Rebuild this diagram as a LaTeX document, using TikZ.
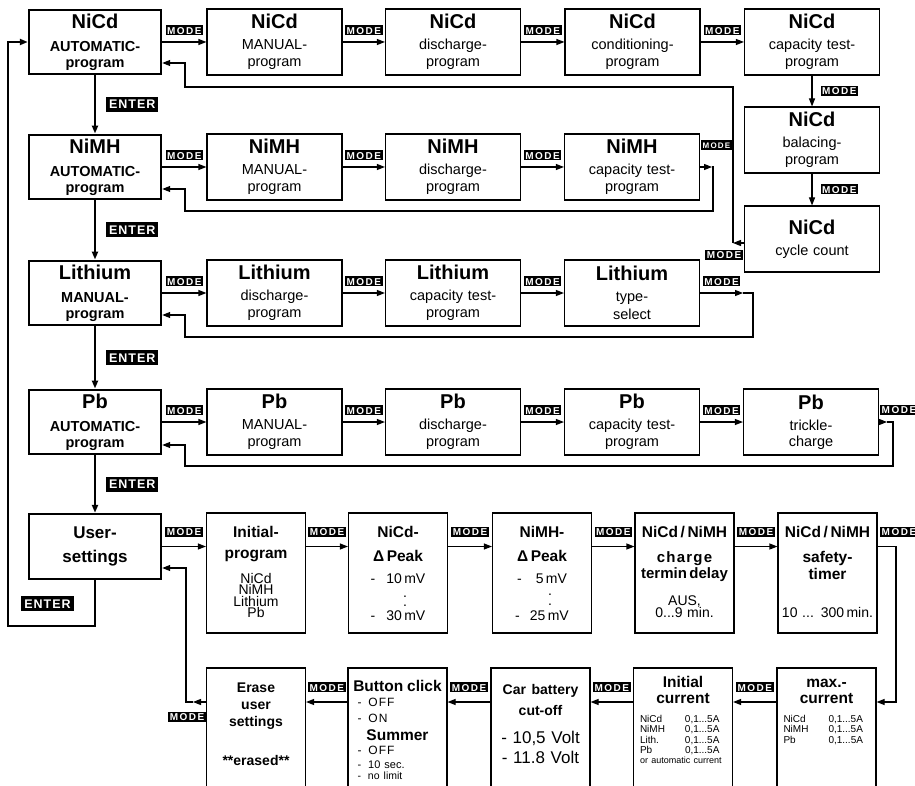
\documentclass[tikz,border=0pt]{standalone}
\usepackage{fontspec}
\setmainfont{Liberation Sans}
\newfontfamily\keyfont[LetterSpace=15]{Liberation Sans}
\newfontfamily\spc[LetterSpace=8]{Liberation Sans}
\usetikzlibrary{arrows.meta}

\newcommand{\ttl}{\fontsize{20}{0}\selectfont\bfseries}
\newcommand{\hb}{\fontsize{15.5}{0}\selectfont\bfseries}
\newcommand{\cur}[1]{\makebox[45pt][l]{#1}0,1...5A}

\tikzset{
  prog/.style={draw, line width=1.1pt, minimum width=135pt, minimum height=66pt,
    inner sep=0pt, text width=130pt, align=center, font=\fontsize{14.5}{0}\selectfont,
    execute at begin node={\lineskiplimit=-50pt}},
  first/.style={prog, line width=2.4pt, minimum width=132pt, minimum height=64.5pt,
    font=\fontsize{14.5}{0}\selectfont\bfseries},
  optbox/.style={draw, line width=1.1pt, minimum width=99pt, minimum height=120pt},
  lowbox/.style={optbox, minimum height=132pt},
  txt/.style={anchor=base, inner sep=0pt, text width=96pt, align=center,
    font=\fontsize{14}{0}\selectfont, execute at begin node={\lineskiplimit=-50pt}},
  mode/.style={fill=black, text=white, inner xsep=1.5pt, inner ysep=1.4pt,
    text height=7.2pt, text depth=0pt, font=\keyfont\fontsize{10}{10}\selectfont\bfseries},
  enter/.style={fill=black, text=white, inner xsep=3pt, inner ysep=3pt,
    text height=9pt, text depth=0pt, font=\spc\fontsize{12.5}{12.5}\selectfont\bfseries},
  modeline/.style={line width=1.1pt},
  enterline/.style={line width=2.2pt},
}

\begin{document}
\begin{tikzpicture}[x=1pt, y=-1pt, >={Triangle[length=8pt,width=6pt]}]
\useasboundingbox (0,0) rectangle (915,786);
\clip (0,0) rectangle (915,786);

% NiCd
\node[first] (nA) at (95,42) {{\ttl NiCd}\\[23pt]AUTOMATIC-\\[16pt]program};
\node[prog] (nM) at (274.5,42) {{\ttl NiCd}\\[21pt]MANUAL-\\[17pt]program};
\node[prog] (nD) at (453,42) {{\ttl NiCd}\\[21pt]discharge-\\[17pt]program};
\node[prog] (nC) at (632.5,42) {{\ttl NiCd}\\[21pt]conditioning-\\[17pt]program};
\node[prog] (nT) at (812,42) {{\ttl NiCd}\\[21pt]capacity test-\\[17pt]program};
\node[prog] (nB) at (812,140) {{\ttl NiCd}\\[21pt]balacing-\\[17pt]program};
\node[prog] (nY) at (812,239) {{\ttl NiCd}\\[21pt]cycle count};

% NiMH
\node[first] (hA) at (95,167) {{\ttl NiMH}\\[23pt]AUTOMATIC-\\[16pt]program};
\node[prog] (hM) at (274.5,167) {{\ttl NiMH}\\[21pt]MANUAL-\\[17pt]program};
\node[prog] (hD) at (453,167) {{\ttl NiMH}\\[21pt]discharge-\\[17pt]program};
\node[prog] (hT) at (632,167) {{\ttl NiMH}\\[21pt]capacity test-\\[17pt]program};

% Lithium
\node[first] (lA) at (95,293) {{\ttl Lithium}\\[23pt]MANUAL-\\[16pt]program};
\node[prog] (lD) at (274.5,293) {{\ttl Lithium}\\[21pt]discharge-\\[17pt]program};
\node[prog] (lT) at (453,293) {{\ttl Lithium}\\[21pt]capacity test-\\[17pt]program};
\node[prog] (lS) at (632,293) {{\ttl Lithium}\\[21pt]type-\\[18pt]select};

% Pb
\node[first] (pA) at (95,422) {{\ttl Pb}\\[23pt]AUTOMATIC-\\[16pt]program};
\node[prog] (pM) at (274.5,422) {{\ttl Pb}\\[21pt]MANUAL-\\[17pt]program};
\node[prog] (pD) at (453,422) {{\ttl Pb}\\[21pt]discharge-\\[17pt]program};
\node[prog] (pT) at (632,422) {{\ttl Pb}\\[21pt]capacity test-\\[17pt]program};
\node[prog] (pC) at (811,422) {{\ttl Pb}\\[21pt]trickle-\\[16pt]charge};

% user settings
\node[first, minimum height=65pt, font=\fontsize{17}{0}\selectfont\bfseries] (us) at (95,546.5) {User-\\[24pt]settings};
\node[optbox] (ip) at (256,573) {};
\node[optbox] (cd) at (398,573) {};
\node[optbox] (hd) at (542,573) {};
\node[optbox] (td) at (684.5,573) {};
\node[optbox] (st) at (827.5,573) {};
\node[lowbox] (er) at (256,734) {};
\node[lowbox] (bc) at (397.5,734) {};
\node[lowbox] (cb) at (540.5,734) {};
\node[lowbox] (ic) at (683,734) {};
\node[lowbox] (mc) at (826.5,734) {};

\node[txt] (ipT) at (256,537) {{\hb Initial-}\\[21pt]{\hb program}\\[25pt]NiCd\\[11.5pt]NiMH\\[11.5pt]Lithium\\[11.5pt]Pb};
\node[txt] (cdT) at (398,537) {{\hb NiCd-}\\[24pt]{\hb Δ\,Peak}\\[22pt]-\hspace{11pt}10\,mV\\[14pt]\hspace*{14pt}.\\[9pt]\hspace*{14pt}.\\[14pt]-\hspace{11pt}30\,mV};
\node[txt] (hdT) at (542,537) {{\hb NiMH-}\\[24pt]{\hb Δ\,Peak}\\[22pt]-\hspace{14pt}5\,mV\\[12pt]\hspace*{16pt}.\\[10pt]\hspace*{16pt}.\\[15pt]-\hspace{10pt}25\,mV};
\node[txt] (tdT) at (684.5,537) {{\hb NiCd\,/\,NiMH}\\[25pt]{\fontsize{15}{0}\selectfont\bfseries\spc charge}\\[16pt]{\fontsize{15}{0}\selectfont\bfseries termin\,delay}\\[27pt]AUS,\\[12pt]0...9 min.};
\node[txt] (stT) at (827.5,537) {{\hb NiCd\,/\,NiMH}\\[25pt]{\hb safety-}\\[17pt]{\hb timer}\\[38pt]10 ... 300\,min.};

\node[txt, font=\fontsize{14}{0}\selectfont\bfseries] (erT) at (256,692) {Erase\\[17pt]user\\[17pt]settings\\[39pt]**erased**};
\node[txt, align=left, text width=90pt, font=\fontsize{12}{0}\selectfont] (bcT) at (397.5,691) {\makebox[90pt]{\hb Button click}\\[15pt]\hspace*{5pt}-\hspace{7pt}{\spc OFF}\\[16pt]\hspace*{5pt}-\hspace{7pt}{\spc ON}\\[18pt]\makebox[90pt]{\hb Summer}\\[14pt]\hspace*{5pt}-\hspace{7pt}{\spc OFF}\\[14pt]{\fontsize{11}{0}\selectfont\hspace*{5pt}-\hspace{7pt}10 sec.}\\[11pt]{\fontsize{10.5}{0}\selectfont\hspace*{5pt}-\hspace{7pt}no limit}};
\node[txt, font=\fontsize{17}{0}\selectfont] (cbT) at (540.5,694) {{\fontsize{14}{0}\selectfont\bfseries Car battery}\\[21pt]{\fontsize{14}{0}\selectfont\bfseries cut-off}\\[28pt]- 10,5 Volt\\[20pt]- 11.8 Volt};
\node[txt, align=left, text width=86pt, font=\fontsize{10}{0}\selectfont] (icT) at (683,687) {\makebox[86pt]{\hb Initial}\\[16pt]\makebox[86pt]{\hb current}\\[19pt]\cur{NiCd}\\[10.5pt]\cur{NiMH}\\[10.5pt]\cur{Lith.}\\[10.5pt]\cur{Pb}\\[9.5pt]{\fontsize{9}{0}\selectfont or automatic current}};
\node[txt, align=left, text width=86pt, font=\fontsize{10}{0}\selectfont] (mcT) at (826.5,687) {\makebox[86pt]{\hb max.-}\\[16pt]\makebox[86pt]{\hb current}\\[19pt]\cur{NiCd}\\[10.5pt]\cur{NiMH}\\[10.5pt]\cur{Pb}};

% MODE steps
\draw[modeline,->] (nA) -- node[mode, above=6pt] (m1) {MODE} (nM);
\draw[modeline,->] (nM) -- node[mode, above=6pt] (m2) {MODE} (nD);
\draw[modeline,->] (nD) -- node[mode, above=6pt] (m3) {MODE} (nC);
\draw[modeline,->] (nC) -- node[mode, above=6pt] (m4) {MODE} (nT);
\draw[modeline,->] (nT) -- node[mode, right=8pt] (m5) {MODE} (nB);
\draw[modeline,->] (nB) -- node[mode, right=8pt] (m6) {MODE} (nY);
\coordinate (c1) at (733,243);
\coordinate (c2) at (185,87);
\draw[modeline,->] ([yshift=-4pt]nY.west) -- (c1);
\draw[modeline,->] (c1) |- (c2) |- ([yshift=-21pt]nA.east);
\node[mode, anchor=north east] (m7) at (743,250) {MODE};

\draw[modeline,->] (hA) -- node[mode, above=6pt] (m8) {MODE} (hM);
\draw[modeline,->] (hM) -- node[mode, above=6pt] (m9) {MODE} (hD);
\draw[modeline,->] (hD) -- node[mode, above=6pt] (m10) {MODE} (hT);
\coordinate (c3) at (713,167);
\coordinate (c4) at (185,211);
\draw[modeline,->] (hT) -- ([xshift=-1pt]c3);
\draw[modeline,->] ([xshift=-1pt]c3) -- (c3) |- (c4) |- ([yshift=-22pt]hA.east);
\node[mode, anchor=south west, text height=6.5pt, font=\keyfont\fontsize{8}{8}\selectfont\bfseries] (m11) at (701,150) {MODE};

\draw[modeline,->] (lA) -- node[mode, above=6pt] (m12) {MODE} (lD);
\draw[modeline,->] (lD) -- node[mode, above=6pt] (m13) {MODE} (lT);
\draw[modeline,->] (lT) -- node[mode, above=6pt] (m14) {MODE} (lS);
\coordinate (c5) at (753,293);
\coordinate (c6) at (185,337);
\draw[modeline,->] (lS) -- node[mode, above=6pt] (m15) {MODE} ([xshift=-10pt]c5);
\draw[modeline,->] ([xshift=-10pt]c5) -- (c5) |- (c6) |- ([yshift=-22pt]lA.east);

\draw[modeline,->] (pA) -- node[mode, above=6pt] (m16) {MODE} (pM);
\draw[modeline,->] (pM) -- node[mode, above=6pt] (m17) {MODE} (pD);
\draw[modeline,->] (pD) -- node[mode, above=6pt] (m18) {MODE} (pT);
\draw[modeline,->] (pT) -- node[mode, above=6pt] (m19) {MODE} (pC);
\coordinate (c7) at (893,422);
\coordinate (c8) at (185,466);
\draw[modeline,->] (pC) -- ([xshift=-6pt]c7);
\draw[modeline,->] ([xshift=-6pt]c7) -- (c7) |- (c8) |- ([yshift=-23pt]pA.east);
\node[mode, anchor=south west] (m20) at (880,415) {MODE};

\draw[modeline,->] (us) -- node[mode, above=9pt] (m21) {MODE} (us -| ip.west);
\draw[modeline,->] (us -| ip.east) -- node[mode, above=9pt] (m22) {MODE} (us -| cd.west);
\draw[modeline,->] (us -| cd.east) -- node[mode, above=9pt] (m23) {MODE} (us -| hd.west);
\draw[modeline,->] (us -| hd.east) -- node[mode, above=9pt] (m24) {MODE} (us -| td.west);
\draw[modeline,->] (us -| td.east) -- node[mode, above=9pt] (m25) {MODE} (us -| st.west);
\coordinate (c9) at (896,546.5);
\coordinate (r6) at (896,702);
\draw[modeline,->] (us -| st.east) -- (c9) |- (mc.east |- r6);
\node[mode, anchor=south west] (m26) at (880,537) {MODE};

\draw[modeline,->] (mc.west |- r6) -- node[mode, above=9pt] (m27) {MODE} (ic.east |- r6);
\draw[modeline,->] (ic.west |- r6) -- node[mode, above=9pt] (m28) {MODE} (cb.east |- r6);
\draw[modeline,->] (cb.west |- r6) -- node[mode, above=9pt] (m29) {MODE} (bc.east |- r6);
\draw[modeline,->] (bc.west |- r6) -- node[mode, above=9pt] (m30) {MODE} (er.east |- r6);
\coordinate (c11) at (186,702);
\draw[modeline,->] (er.west |- r6) -- ([xshift=7pt]c11);
\draw[modeline,->] ([xshift=7pt]c11) -- (c11) |- ([yshift=-21.5pt]us.east);
\node[mode, anchor=north east] (m31) at (206,712) {MODE};

% ENTER steps
\draw[enterline,->] (nA) -- node[enter, right=10pt] (e1) {ENTER} (hA);
\draw[enterline,->] (hA) -- node[enter, right=10pt] (e2) {ENTER} (lA);
\draw[enterline,->] (lA) -- node[enter, right=10pt] (e3) {ENTER} (pA);
\draw[enterline,->] (pA) -- node[enter, right=10pt] (e4) {ENTER} (us);
\coordinate (c12) at (8,626);
\draw[enterline,->] (us.south) |- (c12) |- (nA.west);
\node[enter] (e5) at (47.5,603.5) {ENTER};
\end{tikzpicture}
\end{document}
